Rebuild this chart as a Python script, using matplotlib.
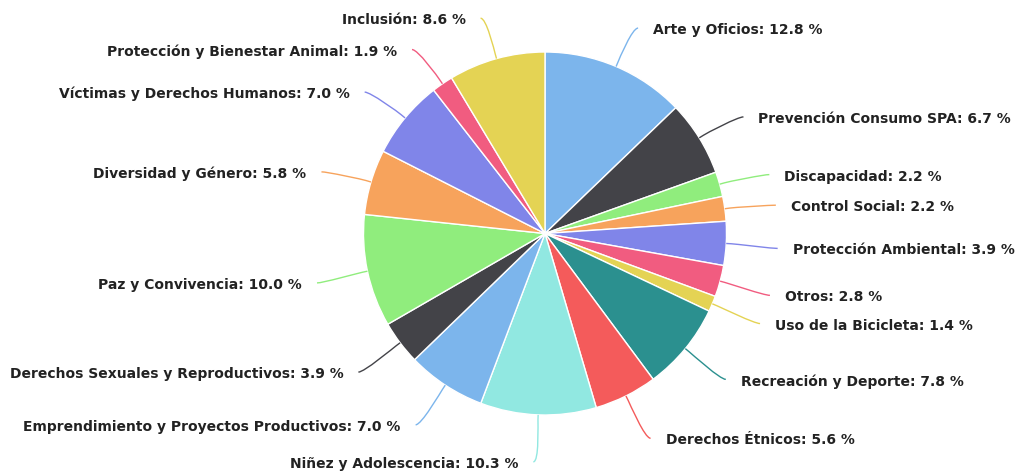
import numpy as np
import matplotlib
matplotlib.use("Agg")
import matplotlib.pyplot as plt
from matplotlib.path import Path
from matplotlib.patches import PathPatch

categories = [
    "Arte y Oficios", "Prevención Consumo SPA", "Discapacidad", "Control Social",
    "Protección Ambiental", "Otros", "Uso de la Bicicleta", "Recreación y Deporte",
    "Derechos Étnicos", "Niñez y Adolescencia", "Emprendimiento y Proyectos Productivos",
    "Derechos Sexuales y Reproductivos", "Paz y Convivencia", "Diversidad y Género",
    "Víctimas y Derechos Humanos", "Protección y Bienestar Animal", "Inclusión",
]
values = [12.8, 6.7, 2.2, 2.2, 3.9, 2.8, 1.4, 7.8, 5.6, 10.3, 7.0, 3.9, 10.0, 5.8, 7.0, 1.9, 8.6]
palette = ["#7cb5ec", "#434348", "#90ed7d", "#f7a35c", "#8085e9",
           "#f15c80", "#e4d354", "#2b908f", "#f45b5b", "#91e8e1"]
colors = [palette[i % len(palette)] for i in range(len(values))]

W, H = 1018, 473
fig = plt.figure(figsize=(W / 100, H / 100), dpi=100)
ax = fig.add_axes([0, 0, 1, 1])

cx, cy, r = 545.0, 233.5, 181.5
Rx, Ry, cyl = 230.0, 226.0, 236.0  # label placement (pixels)

wedges, _ = ax.pie(values, colors=colors, center=(cx, cy), radius=r,
                   startangle=-90, counterclock=True,
                   wedgeprops=dict(edgecolor="white", linewidth=1.0))
ax.set_xlim(0, W)
ax.set_ylim(H, 0)
ax.set_aspect("equal")
ax.axis("off")

total = float(sum(values))
cum = np.cumsum([0.0] + values)
for i, (name, v) in enumerate(zip(categories, values)):
    mid = (cum[i] + cum[i + 1]) / 2.0 / total
    th = np.deg2rad(-90 + 360 * mid)
    c, s = np.cos(th), np.sin(th)
    left = c < 0
    sign = -1 if left else 1
    lx = cx + sign * (Rx * abs(c) + 3)
    ly = cyl + Ry * s
    touch = np.array([cx + r * c, cy + r * s])
    brk = np.array([cx + (r + 5) * c, cy + (r + 5) * s])
    ctrl = 2 * brk - touch
    verts = [(lx, ly), (lx - sign * 6, ly), tuple(ctrl), tuple(brk), tuple(touch)]
    codes = [Path.MOVETO, Path.CURVE4, Path.CURVE4, Path.CURVE4, Path.LINETO]
    ax.add_patch(PathPatch(Path(verts, codes), facecolor="none",
                           edgecolor=colors[i], linewidth=1.0))
    tx = lx + sign * 15
    ax.text(tx, ly + 2, f"{name}: {v:.1f} %", ha="right" if left else "left",
            va="center", fontsize=10, fontweight="bold", color="#222222",
            family="DejaVu Sans")

fig.savefig("out.png", dpi=100)
